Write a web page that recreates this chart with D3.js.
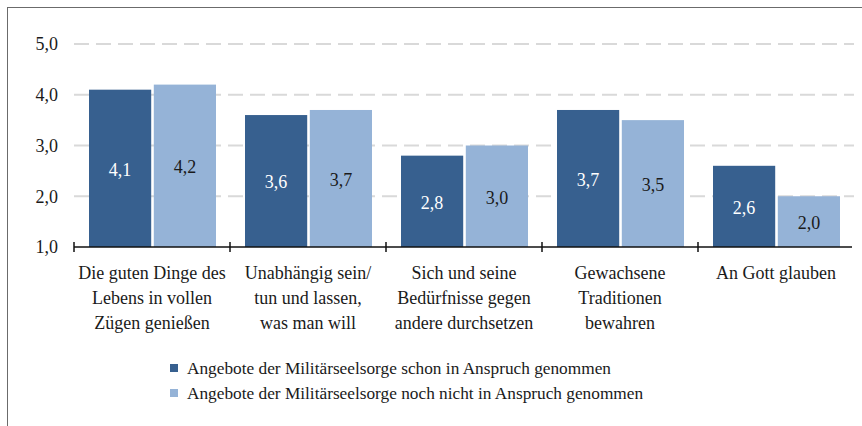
<!DOCTYPE html>
<html>
<head>
<meta charset="utf-8">
<script src="https://cdn.jsdelivr.net/npm/d3@7"></script>
<style>
  html, body { margin: 0; padding: 0; background: #fff; }
  svg { display: block; }
</style>
</head>
<body>
<div id="chart"></div>
<script>
// ---------------------------------------------------------------------------
// Data
// ---------------------------------------------------------------------------
const categories = [
  ["Die guten Dinge des", "Lebens in vollen", "Zügen genießen"],
  ["Unabhängig sein/", "tun und lassen,", "was man will"],
  ["Sich und seine", "Bedürfnisse gegen", "andere durchsetzen"],
  ["Gewachsene", "Traditionen", "bewahren"],
  ["An Gott glauben"],
];
const seriesNames = [
  "Angebote der Militärseelsorge schon in Anspruch genommen",
  "Angebote der Militärseelsorge noch nicht in Anspruch genommen",
];
const valuesSchon = [4.1, 3.6, 2.8, 3.7, 2.6];
const valuesNoch  = [4.2, 3.7, 3.0, 3.5, 2.0];
const yTicks = [1, 2, 3, 4, 5];

// ---------------------------------------------------------------------------
// Setup
// ---------------------------------------------------------------------------
const W = 862, H = 426;
const FONT = "'Liberation Serif', monospace";
const colors = ["#37608f", "#95b3d7"];
const labelColors = ["#ffffff", "#1a1a1a"];
const fmt = d3.formatLocale({ decimal: ",", thousands: ".", grouping: [3], currency: ["", "€"] }).format(".1f");

const svg = d3.select("#chart").append("svg")
  .attr("width", W).attr("height", H);

// frame
svg.append("rect")
  .attr("x", 7.5).attr("y", 7.5).attr("width", W + 10).attr("height", H + 10)
  .attr("fill", "none").attr("stroke", "#6b6b6b").attr("stroke-width", 1);

const keys = categories.map((_, i) => i);
const x0 = d3.scaleBand().domain(keys).range([74, 854]).padding(0);
const x1 = d3.scaleBand().domain([0, 1]).range([15, 142]).paddingInner(0.04);
const y = d3.scaleLinear().domain([1, 5]).range([247, 44]);

// gridlines
svg.append("g").selectAll("line").data(yTicks.filter((t) => t > 1)).join("line")
  .attr("x1", 74).attr("x2", 854)
  .attr("y1", (d) => y(d)).attr("y2", (d) => y(d))
  .attr("stroke", "#d9d9d9").attr("stroke-width", 2)
  .attr("stroke-dasharray", "15,7");

// y tick labels
svg.append("g").selectAll("text").data(yTicks).join("text")
  .attr("x", 58).attr("y", (d) => y(d))
  .attr("dy", "0.35em").attr("text-anchor", "end")
  .attr("font-family", FONT).attr("font-size", 18).attr("fill", "#1a1a1a")
  .text((d) => fmt(d));

// bars
const rows = keys.map((i) => ({ i, vals: [valuesSchon[i], valuesNoch[i]] }));
const groups = svg.append("g").selectAll("g").data(rows).join("g")
  .attr("transform", (d) => `translate(${x0(d.i)},0)`);

groups.selectAll("rect").data((d) => d.vals.map((v, s) => ({ v, s }))).join("rect")
  .attr("x", (d) => x1(d.s)).attr("width", x1.bandwidth())
  .attr("y", (d) => y(d.v)).attr("height", (d) => y(1) - y(d.v))
  .attr("fill", (d) => colors[d.s]);

groups.selectAll("text").data((d) => d.vals.map((v, s) => ({ v, s }))).join("text")
  .attr("x", (d) => x1(d.s) + x1.bandwidth() / 2)
  .attr("y", (d) => (y(d.v) + y(1)) / 2 + 1)
  .attr("dy", "0.35em").attr("text-anchor", "middle")
  .attr("font-family", FONT).attr("font-size", 18).attr("fill", (d) => labelColors[d.s])
  .text((d) => fmt(d.v));

// x axis line with boundary ticks
const axis = svg.append("g").attr("transform", `translate(0,${y(1)})`);
axis.append("line").attr("x1", 74).attr("x2", 852)
  .attr("stroke", "#111").attr("stroke-width", 1.5);
axis.selectAll("line.tick").data(keys).join("line")
  .attr("class", "tick")
  .attr("x1", (d) => x0(d)).attr("x2", (d) => x0(d))
  .attr("y1", -5).attr("y2", 5)
  .attr("stroke", "#111").attr("stroke-width", 1.5);

// category labels
svg.append("g").selectAll("text").data(keys).join("text")
  .attr("text-anchor", "middle")
  .attr("font-family", FONT).attr("font-size", 18).attr("fill", "#1a1a1a")
  .attr("transform", (d) => `translate(${x0(d) + x0.bandwidth() / 2},279)`)
  .selectAll("tspan").data((d) => categories[d]).join("tspan")
  .attr("x", 0).attr("dy", (_, j) => j === 0 ? 0 : 25)
  .text((d) => d);

// legend
const legend = svg.append("g").selectAll("g").data(seriesNames).join("g")
  .attr("transform", (_, i) => `translate(170,${368 + i * 25})`);
legend.append("rect")
  .attr("x", 0).attr("y", -4).attr("width", 8).attr("height", 8)
  .attr("fill", (_, i) => colors[i]);
legend.append("text")
  .attr("x", 17).attr("dy", "0.35em")
  .attr("font-family", FONT).attr("font-size", 17.3).attr("fill", "#1a1a1a")
  .text((d) => d);
</script>
</body>
</html>
